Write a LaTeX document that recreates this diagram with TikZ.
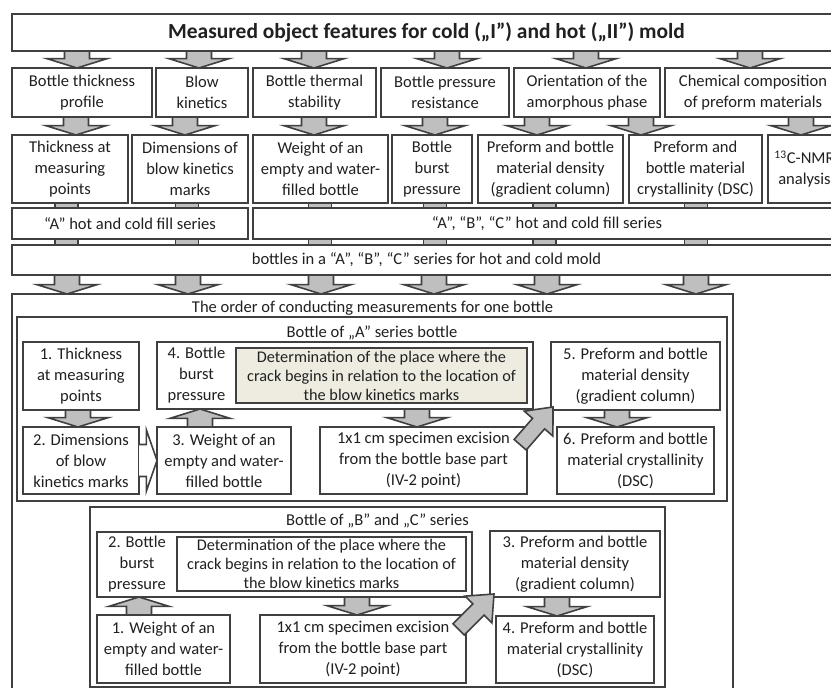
\documentclass[tikz,border=0pt]{standalone}
\usepackage{fontspec}
\setmainfont{Carlito}
\usetikzlibrary{calc}
\definecolor{ln}{HTML}{404040}
\definecolor{ar}{HTML}{BFBFBF}
\definecolor{sh}{HTML}{EEECE1}
\definecolor{tx}{HTML}{202020}
\newcommand\fs{\fontsize{12.4}{15.75}\selectfont}
\newcommand\fd{\fontsize{12.2}{14.3}\selectfont}
\tikzset{
  box/.style={draw=ln, line width=1.5pt, fill=white, inner sep=0pt, outer sep=0pt, align=center, font=\fs, text=tx},
  shbox/.style={box, fill=sh, font=\fd},
  wbox/.style={box, font=\fd},
  ttl/.style={box, font=\fontsize{16.1}{19}\bfseries\selectfont},
  txt/.style={inner sep=0pt, outer sep=0pt, align=center, font=\fs, text=tx},
  blk/.style={draw=ln, line width=1.2pt, fill=ar, line join=miter},
}
% box: [style] name, x1, y1, x2, y2 (px), text
\newcommand\bx[7][box]{%
  \pgfmathsetmacro\bxw{(#5-#3)*0.75}%
  \pgfmathsetmacro\bxh{(#6-#4)*0.75}%
  \node[#1, minimum width=\bxw pt, minimum height=\bxh pt] (#2) at ({(#3+#5)/2},{(#4+#6)/2}) {#7};}
% down block arrow: x (px), upper node, lower node
\newcommand\darr[3]{\draw[blk] let \p1=(#2.south), \p2=(#3.north), \n1={#1*0.75pt}, \n2={\y2+7pt} in
  (\n1-9.4pt,\y1) -- (\n1+9.4pt,\y1) -- (\n1+9.4pt,\n2) -- (\n1+22.5pt,\n2) -- (\n1,\y2) -- (\n1-22.5pt,\n2) -- (\n1-9.4pt,\n2) -- cycle;}
% up block arrow: x (px), lower node, upper node
\newcommand\uarr[3]{\draw[blk] let \p1=(#2.north), \p2=(#3.south), \n1={#1*0.75pt}, \n2={\y2-7pt} in
  (\n1-9.4pt,\y1) -- (\n1+9.4pt,\y1) -- (\n1+9.4pt,\n2) -- (\n1+22.5pt,\n2) -- (\n1,\y2) -- (\n1-22.5pt,\n2) -- (\n1-9.4pt,\n2) -- cycle;}
% shaft stub between two nodes
\newcommand\stub[3]{\draw[blk] let \p1=(#2.south), \p2=(#3.north), \n1={#1*0.75pt} in (\n1-8.6pt,\y1) rectangle (\n1+8.6pt,\y2);}
% diagonal arrow: tip, angle
\newcommand\diagarr[2]{\begin{scope}[shift={#1}, rotate=#2]
  \draw[blk] (0,0) -- (-22,19) -- (-22,8) -- (-50,8) -- (-50,-8) -- (-22,-8) -- (-22,-19) -- cycle;
\end{scope}}
\begin{document}
\begin{tikzpicture}[x=0.75pt, y=-0.75pt]
\useasboundingbox (0,0) rectangle (831,688);
\fill[white] (0,0) rectangle (831,688);
% title
\bx[ttl]{title}{12}{14}{841}{51}{Measured object features for cold („I”) and hot („II”) mold}
% row 2
\bx{r2a}{12}{68}{152}{117}{Bottle thickness\\profile}
\bx{r2b}{156}{68}{248}{117}{Blow\\kinetics}
\bx{r2c}{253}{68}{376}{117}{Bottle thermal\\stability}
\bx{r2d}{381}{68}{509}{117}{Bottle pressure\\resistance}
\bx{r2e}{514}{68}{660}{117}{Orientation of the\\amorphous phase}
\bx{r2f}{665}{68}{841}{117}{Chemical composition\\of preform materials}
% row 3
\bx{r3a}{12}{135}{128}{203}{Thickness at\\measuring\\points}
\bx{r3b}{132}{135}{248}{203}{Dimensions of\\blow kinetics\\marks}
\bx{r3c}{253}{135}{388}{203}{Weight of an\\empty and water-\\filled bottle}
\bx{r3d}{392}{135}{472}{203}{Bottle\\burst\\pressure}
\bx{r3e}{478}{135}{623}{203}{Preform and bottle\\material density\\(gradient column)}
\bx{r3f}{629}{135}{762}{203}{Preform and\\bottle material\\crystallinity (DSC)}
\bx{r3g}{768}{135}{841}{203}{\textsuperscript{13}C-NMR\\analysis}
% row 4, 5
\bx{r4a}{12}{208}{248}{239}{“A” hot and cold fill series}
\bx{r4b}{253}{208}{841}{239}{“A”, “B”, “C” hot and cold fill series}
\bx{r5}{12}{245}{841}{275}{bottles in a “A”, “B”, “C” series for hot and cold mold}
% arrows title -> row 2
\darr{77}{title}{r2a}
\darr{199}{title}{r2b}
\darr{314}{title}{r2c}
\darr{447}{title}{r2d}
\darr{586}{title}{r2e}
\darr{750}{title}{r2f}
% row 2 -> row 3
\darr{76}{r2a}{r3a}
\darr{185}{r2b}{r3b}
\darr{314}{r2c}{r3c}
\darr{435}{r2d}{r3d}
\darr{537}{r2e}{r3e}
\darr{641}{r2e}{r3f}
\darr{801}{r2f}{r3g}
% stubs
\stub{66.5}{r3a}{r4a}
\stub{187}{r3b}{r4a}
\stub{320}{r3c}{r4b}
\stub{435}{r3d}{r4b}
\stub{544.5}{r3e}{r4b}
\stub{696}{r3f}{r4b}
\stub{66.5}{r4a}{r5}
\stub{187}{r4a}{r5}
\stub{320}{r4b}{r5}
\stub{435}{r4b}{r5}
\stub{544.5}{r4b}{r5}
\stub{696}{r4b}{r5}
% outer container
\bx{outer}{12}{294}{733}{710}{}
\node[txt] (outert) at ($(outer.north)+(0,14)$) {The order of conducting measurements for one bottle};
\darr{67}{r5}{outer}
\darr{188}{r5}{outer}
\darr{321}{r5}{outer}
\darr{434}{r5}{outer}
\darr{547}{r5}{outer}
\darr{696}{r5}{outer}
% A series
\bx{abox}{17}{317}{727}{501}{}
\node[txt] (abt) at ($(abox.north)+(0,16)$) {Bottle of „A” series bottle};
\bx{a1}{23}{342}{139}{410}{1. Thickness\\at measuring\\points}
\bx{a4}{157}{342}{533}{409}{}
\bx[shbox]{a4d}{236}{348}{527}{403}{Determination of the place where the\\crack begins in relation to the location of\\the blow kinetics marks}
\node[txt] (a4t) at ($(a4.west)!0.5!(a4d.west)$) {4. Bottle\\burst\\pressure};
\bx{a5}{551}{342}{720}{410}{5. Preform and bottle\\material density\\(gradient column)}
\bx{a2}{23}{427}{139}{494}{2. Dimensions\\of blow\\kinetics marks}
\bx{a3}{157}{427}{291}{494}{3. Weight of an\\empty and water-\\filled bottle}
\bx{ax}{320}{427}{527}{494}{1x1 cm specimen excision\\from the bottle base part\\(IV-2 point)}
\bx{a6}{557}{427}{714}{494}{6. Preform and bottle\\material crystallinity\\(DSC)}
\darr{78}{a1}{a2}
\uarr{200}{a3}{a4}
\darr{417}{a4}{ax}
\darr{617}{a5}{a6}
\draw[blk, fill=white] let \p1=(a2.east), \p2=(a3.west) in
  (\x1,\y1+12pt) -- (\x1+5.5pt,\y1+12pt) -- (\x1+5.5pt,\y1+23pt) -- (\x2,\y1) -- (\x1+5.5pt,\y1-23pt) -- (\x1+5.5pt,\y1-12pt) -- (\x1,\y1-12pt);
\diagarr{($(a5.south west)+(2,-3)$)}{49}
% B and C series
\bx{bbox}{90}{507}{665}{687}{}
\node[txt] (bbt) at ($(bbox.north)+(0,14)$) {Bottle of „B” and „C” series};
\bx{b2}{97}{532}{472}{597}{}
\bx[wbox]{b2d}{177}{537}{466}{591}{Determination of the place where the\\crack begins in relation to the location of\\the blow kinetics marks}
\node[txt] (b2t) at ($(b2.west)!0.5!(b2d.west)$) {2. Bottle\\burst\\pressure};
\bx{b3}{490}{531}{660}{597}{3. Preform and bottle\\material density\\(gradient column)}
\bx{b1}{97}{615}{230}{683}{1. Weight of an\\empty and water-\\filled bottle}
\bx{bx}{260}{615}{466}{683}{1x1 cm specimen excision\\from the bottle base part\\(IV-2 point)}
\bx{b4}{496}{616}{654}{683}{4. Preform and bottle\\material crystallinity\\(DSC)}
\uarr{139}{b1}{b2}
\darr{357}{b2}{bx}
\darr{557}{b3}{b4}
\diagarr{($(b3.south west)+(4,-3)$)}{45}
\end{tikzpicture}
\end{document}
